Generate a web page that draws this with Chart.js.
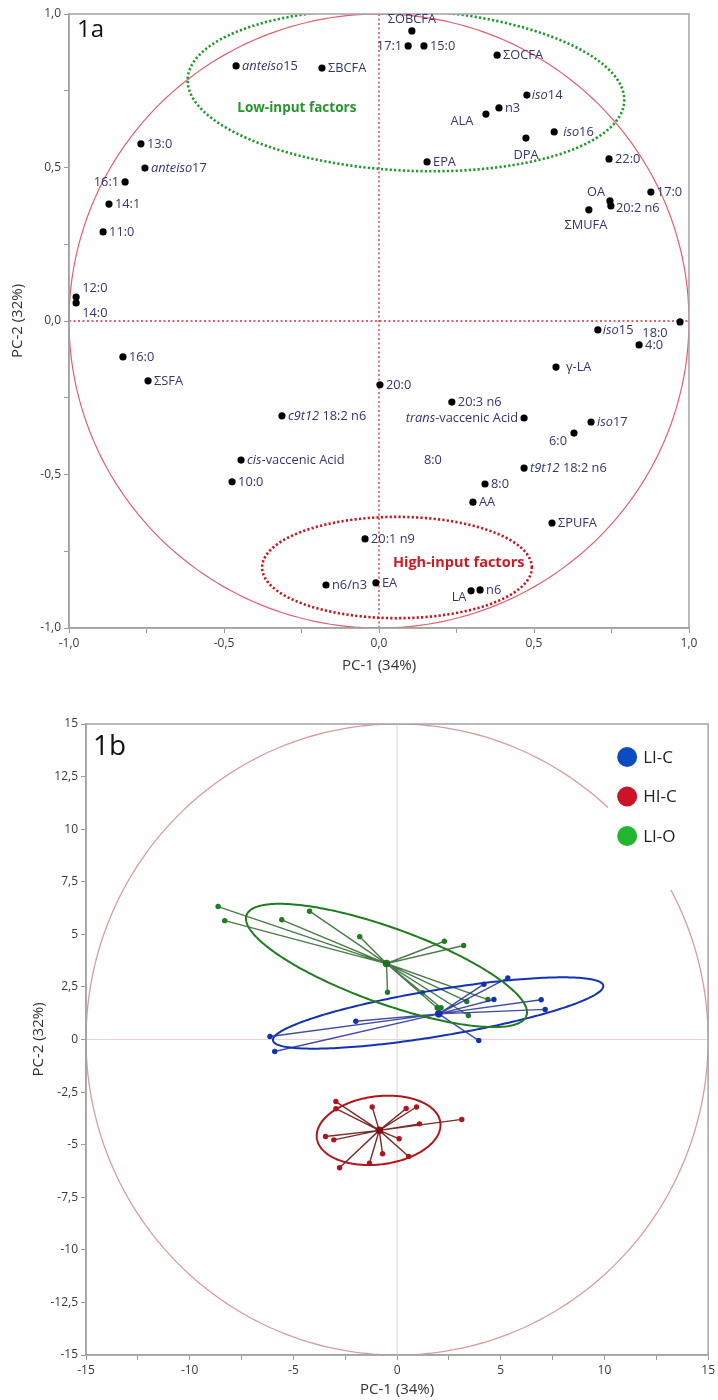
<!DOCTYPE html>
<html><head><meta charset="utf-8">
<script src="https://cdn.jsdelivr.net/npm/chart.js@4.4.1/dist/chart.umd.min.js"></script>
<style>
html,body{margin:0;padding:0;background:#fff;}
#wrap{position:relative;width:718px;height:1400px;overflow:hidden;}
canvas{position:absolute;left:0;}
#c1{top:0;}
#c2{top:690px;}
</style></head><body>
<div id="wrap"><canvas id="c1" width="718" height="690"></canvas><canvas id="c2" width="718" height="710"></canvas></div>
<script>
// ---------- Panel 1a : loadings ----------
const loadingNames = ['ΣOBCFA','17:1','15:0','ΣOCFA','*anteiso*15','ΣBCFA','*iso*14','n3','ALA','DPA','*iso*16','EPA','22:0','17:0','OA','20:2 n6','ΣMUFA','13:0','*anteiso*17','16:1','14:1','11:0','12:0','14:0','18:0','*iso*15','4:0','γ-LA','16:0','ΣSFA','20:0','20:3 n6','*trans*-vaccenic Acid','*iso*17','6:0','*c9t12* 18:2 n6','*cis*-vaccenic Acid','10:0','*t9t12* 18:2 n6','8:0','AA','ΣPUFA','20:1 n9','n6/n3','EA','LA','n6'];
const pc1Loadings = [0.106,0.094,0.145,0.381,-0.461,-0.184,0.477,0.387,0.345,0.474,0.565,0.155,0.742,0.877,0.745,0.748,0.677,-0.768,-0.755,-0.819,-0.871,-0.890,-0.977,-0.977,0.971,0.706,0.839,0.571,-0.826,-0.745,0.003,0.235,0.468,0.684,0.629,-0.313,-0.445,-0.474,0.468,0.342,0.303,0.558,-0.045,-0.171,-0.010,0.297,0.326];
const pc2Loadings = [0.945,0.896,0.896,0.866,0.831,0.824,0.736,0.694,0.674,0.596,0.616,0.518,0.528,0.420,0.391,0.375,0.362,0.577,0.498,0.453,0.381,0.290,0.078,0.059,-0.003,-0.029,-0.078,-0.150,-0.117,-0.195,-0.208,-0.264,-0.316,-0.329,-0.365,-0.309,-0.453,-0.524,-0.479,-0.531,-0.590,-0.658,-0.710,-0.860,-0.853,-0.879,-0.876];
// stray text label without a point
const strayLabelText = ['8:0'];
const strayLabelPc1 = [0.174];
const strayLabelPc2 = [-0.453];
// group factor regions (centre x, centre y, radius x, radius y, angle deg)
const lowInputRegion = [0.087, 0.752, 0.705, 0.262, -3];
const highInputRegion = [0.058, -0.803, 0.435, 0.165, 0];
const regionTitles = ['Low-input factors','High-input factors'];
const regionTitlePc1 = [-0.265, 0.257];
const regionTitlePc2 = [0.694, -0.788];
const tickA = [-1,-0.5,0,0.5,1];

// ---------- Panel 1b : scores ----------
const groupNames = ['LI-C','HI-C','LI-O'];
const licCentroid = [2.01, 1.22];
const licPc1 = [-1.99,-6.13,-5.90,4.19,5.34,4.67,6.95,7.14,3.94];
const licPc2 = [0.87,0.14,-0.57,2.63,2.93,1.90,1.89,1.43,-0.05];
const hicCentroid = [-0.86,-4.32];
const hicPc1 = [-3.45,-3.05,-2.77,-1.33,-0.70,0.10,0.56,1.08,3.12,-2.95,-2.95,-1.20,0.44,0.94];
const hicPc2 = [-4.61,-4.77,-6.10,-5.88,-5.43,-4.72,-5.56,-4.01,-3.80,-2.95,-3.29,-3.21,-3.28,-3.21];
const lioCentroid = [-0.51, 3.61];
const lioPc1 = [-8.63,-8.31,-5.56,-4.22,-1.80,-0.46,2.28,3.21,1.23,3.36,4.38,3.44,1.93,2.12];
const lioPc2 = [6.32,5.65,5.69,6.10,4.89,2.25,4.67,4.47,2.22,1.81,1.90,1.14,1.51,1.51];
// confidence ellipses (centre x, centre y, semi-axis a, semi-axis b, angle deg)
const licEllipse = [1.98, 1.26, 8.07, 1.10, 9.3];
const hicEllipse = [-0.89, -4.32, 3.0, 1.62, 7];
const lioEllipse = [-0.51, 3.52, 7.16, 1.80, -19.5];

// ---------- styling ----------
const F = "'Open Sans','Noto Sans',sans-serif";
const labelColor = '#33366c';
const labelPlace = { // [dx, dy, align] in px relative to dot
  'ΣOBCFA':[0,-12,'center'], '17:1':[-6,0,'right'], 'ALA':[-24,7,'center'], 'DPA':[0,17,'center'],
  'OA':[-14,-9,'center'], 'ΣMUFA':[-3,15,'center'], '16:1':[-6,0,'right'], '12:0':[6,-9,'left'],
  '14:0':[6,10,'left'], '18:0':[-25,11,'center'], '*trans*-vaccenic Acid':[-6,0,'right'],
  '6:0':[-16,8,'center'], 'LA':[-12,6,'center'], '*iso*16':[9,0,'left'], 'γ-LA':[10,0,'left'],
  '*iso*14':[5,0,'left'], '20:2 n6':[5,2,'left'], '*iso*15':[5,0,'left']
};
const groupColors = {'LI-C':'#1232b4','HI-C':'#b0141c','LI-O':'#1f7d1f'};
const groupLineColors = {'LI-C':'rgba(30,45,150,0.85)','HI-C':'rgba(110,20,20,0.9)','LI-O':'rgba(40,100,40,0.85)'};
const legendColors = {'LI-C':'#0b4cc0','HI-C':'#cc1428','LI-O':'#22b530'};

function segs(s){const out=[];s.split('*').forEach((p,i)=>{if(p)out.push({t:p,it:i%2===1});});return out;}
function drawRich(ctx,str,x,y,align,size,color,bold){
  const sg=segs(str);
  const fnt=it=>`${it?'italic ':''}${bold?'bold ':''}${size}px ${F}`;
  let w=0;sg.forEach(s=>{ctx.font=fnt(s.it);s.w=ctx.measureText(s.t).width;w+=s.w;});
  let sx=align==='left'?x:align==='right'?x-w:x-w/2;
  ctx.fillStyle=color;ctx.textBaseline='middle';ctx.textAlign='left';
  sg.forEach(s=>{ctx.font=fnt(s.it);ctx.fillText(s.t,sx,y);sx+=s.w;});
}
function ellipsePath(ctx,xs,ys,p){
  const [cx,cy,a,b,deg]=p;const r=deg*Math.PI/180;
  ctx.beginPath();
  for(let i=0;i<=240;i++){
    const t=i/240*2*Math.PI;
    const dx=a*Math.cos(t),dy=b*Math.sin(t);
    const X=cx+dx*Math.cos(r)-dy*Math.sin(r);
    const Y=cy+dx*Math.sin(r)+dy*Math.cos(r);
    const px=xs.getPixelForValue(X),py=ys.getPixelForValue(Y);
    if(i===0)ctx.moveTo(px,py);else ctx.lineTo(px,py);
  }
  ctx.closePath();
}
function frame(chart){
  const {ctx,chartArea:a}=chart;
  ctx.save();ctx.strokeStyle='#a3a3a3';ctx.lineWidth=1.5;
  ctx.strokeRect(a.left,a.top,a.right-a.left,a.bottom-a.top);ctx.restore();
}
const fmtA=v=>{const r=Math.round(v*10)/10;return (r===0?0:r).toFixed(1).replace('.',',');};
const fmtB=v=>String(Math.round(v*10)/10).replace('.',',');

// ---------- Chart 1a ----------
const bgA={id:'bgA',
  beforeDatasetsDraw(chart){
    const {ctx,chartArea:a,scales:{x,y}}=chart;
    ctx.save();
    ctx.beginPath();ctx.rect(a.left,a.top,a.right-a.left,a.bottom-a.top);ctx.clip();
    ctx.strokeStyle='#d2303e';ctx.lineWidth=1.3;ctx.setLineDash([2,2.5]);
    ctx.beginPath();
    ctx.moveTo(x.getPixelForValue(0),a.top);ctx.lineTo(x.getPixelForValue(0),a.bottom);
    ctx.moveTo(a.left,y.getPixelForValue(0));ctx.lineTo(a.right,y.getPixelForValue(0));
    ctx.stroke();
    ctx.setLineDash([]);ctx.strokeStyle='#e2606e';ctx.lineWidth=1.2;
    ellipsePath(ctx,x,y,[0,0,1,1,0]);ctx.stroke();
    ctx.lineWidth=2.6;ctx.setLineDash([2.2,2.2]);
    ctx.strokeStyle='#1f9a2a';ellipsePath(ctx,x,y,lowInputRegion);ctx.stroke();
    ctx.strokeStyle='#c8141e';ellipsePath(ctx,x,y,highInputRegion);ctx.stroke();
    ctx.restore();
    frame(chart);
  },
  afterDatasetsDraw(chart){
    const {ctx,chartArea:a,scales:{x,y}}=chart;
    ctx.save();
    loadingNames.forEach((n,i)=>{
      const p=labelPlace[n]||[6,0,'left'];
      drawRich(ctx,n,x.getPixelForValue(pc1Loadings[i])+p[0],y.getPixelForValue(pc2Loadings[i])+p[1],p[2],12.8,labelColor,false);
    });
    strayLabelText.forEach((t,i)=>drawRich(ctx,t,x.getPixelForValue(strayLabelPc1[i]),y.getPixelForValue(strayLabelPc2[i]),'center',12.8,labelColor,false));
    drawRich(ctx,regionTitles[0],x.getPixelForValue(regionTitlePc1[0]),y.getPixelForValue(regionTitlePc2[0]),'center',13.5,'#27952f',true);
    drawRich(ctx,regionTitles[1],x.getPixelForValue(regionTitlePc1[1]),y.getPixelForValue(regionTitlePc2[1]),'center',14.5,'#cf1a24',true);
    ctx.fillStyle='#111';ctx.font=`24px ${F}`;ctx.textAlign='left';ctx.textBaseline='alphabetic';
    ctx.fillText('1a',a.left+8,a.top+23);
    ctx.restore();
  }
};
new Chart(document.getElementById('c1'),{
  type:'scatter',
  data:{datasets:[{data:pc1Loadings.map((v,i)=>({x:v,y:pc2Loadings[i]})),pointRadius:3.6,pointHoverRadius:3.6,backgroundColor:'#000',borderWidth:0}]},
  options:{responsive:false,animation:false,
    layout:{padding:{top:14,right:29,left:0,bottom:12}},
    plugins:{legend:{display:false},tooltip:{enabled:false}},
    scales:{
      x:{type:'linear',min:-1,max:1,
        ticks:{stepSize:0.25,autoSkip:false,maxRotation:0,padding:3,color:'#3a3a3a',font:{size:12,family:F},
          callback:v=>tickA.some(t=>Math.abs(t-v)<1e-9)?fmtA(v):''},
        grid:{drawOnChartArea:false,drawTicks:true,tickLength:5,color:'#999'},
        border:{color:'#a3a3a3',width:1.5},
        title:{display:true,text:'PC-1 (34%)',color:'#333',font:{size:15,family:F},padding:{top:2,bottom:3}},
        afterFit:s=>{s.height=50;}},
      y:{type:'linear',min:-1,max:1,
        ticks:{stepSize:0.25,autoSkip:false,padding:3,color:'#3a3a3a',font:{size:12,family:F},
          callback:v=>tickA.some(t=>Math.abs(t-v)<1e-9)?fmtA(v):''},
        grid:{drawOnChartArea:false,drawTicks:true,tickLength:5,color:'#999'},
        border:{color:'#a3a3a3',width:1.5},
        title:{display:true,text:'PC-2 (32%)',color:'#333',font:{size:15,family:F},padding:{top:9,bottom:0}},
        afterFit:s=>{s.width=69;}}
    }
  },
  plugins:[bgA]
});

// ---------- Chart 1b ----------
const groups=[
  {name:'LI-C',c:licCentroid,xs:licPc1,ys:licPc2,e:licEllipse},
  {name:'HI-C',c:hicCentroid,xs:hicPc1,ys:hicPc2,e:hicEllipse},
  {name:'LI-O',c:lioCentroid,xs:lioPc1,ys:lioPc2,e:lioEllipse}
];
const datasetsB=[];
groups.forEach(g=>{
  const star=[];
  g.xs.forEach((v,i)=>{star.push({x:g.c[0],y:g.c[1]});star.push({x:v,y:g.ys[i]});});
  datasetsB.push({data:star,showLine:true,borderColor:groupLineColors[g.name],borderWidth:1.4,
    pointRadius:c=>c.dataIndex%2===1?2.7:0,pointHoverRadius:0,backgroundColor:groupColors[g.name],pointBorderWidth:0});
  datasetsB.push({data:[{x:g.c[0],y:g.c[1]}],pointRadius:3.8,backgroundColor:groupColors[g.name],pointBorderWidth:0});
});
const bgB={id:'bgB',
  beforeDatasetsDraw(chart){
    const {ctx,chartArea:a,scales:{x,y}}=chart;
    ctx.save();
    ctx.beginPath();ctx.rect(a.left,a.top,a.right-a.left,a.bottom-a.top);ctx.clip();
    ctx.strokeStyle='#ead2d2';ctx.lineWidth=1.2;
    ctx.beginPath();
    ctx.moveTo(x.getPixelForValue(0),a.top);ctx.lineTo(x.getPixelForValue(0),a.bottom);
    ctx.moveTo(a.left,y.getPixelForValue(0));ctx.lineTo(a.right,y.getPixelForValue(0));
    ctx.stroke();
    ctx.strokeStyle='#d79c9c';ctx.lineWidth=1.3;
    ellipsePath(ctx,x,y,[0,0,15,15,0]);ctx.stroke();
    ctx.restore();
    frame(chart);
  },
  afterDatasetsDraw(chart){
    const {ctx,chartArea:a,scales:{x,y}}=chart;
    ctx.save();
    ctx.lineWidth=2;
    groups.forEach(g=>{ctx.strokeStyle=groupColors[g.name];ellipsePath(ctx,x,y,g.e);ctx.stroke();});
    // legend
    ctx.fillStyle='#fff';ctx.fillRect(a.right-100,a.top+16,92,150);
    groupNames.forEach((n,i)=>{
      const cy=a.top+33+i*39.5, cx=a.right-81;
      ctx.beginPath();ctx.arc(cx,cy,10,0,2*Math.PI);ctx.fillStyle=legendColors[n];ctx.fill();
      ctx.fillStyle='#222';ctx.font=`17px ${F}`;ctx.textAlign='left';ctx.textBaseline='middle';
      ctx.fillText(n,cx+16,cy+1);
    });
    ctx.fillStyle='#111';ctx.font=`28px ${F}`;ctx.textAlign='left';ctx.textBaseline='alphabetic';
    ctx.fillText('1b',a.left+7,a.top+31);
    ctx.restore();
  }
};
new Chart(document.getElementById('c2'),{
  type:'scatter',
  data:{datasets:datasetsB},
  options:{responsive:false,animation:false,
    layout:{padding:{top:34,right:4,left:0,bottom:0}},
    plugins:{legend:{display:false},tooltip:{enabled:false}},
    scales:{
      x:{type:'linear',min:-15,max:15,
        ticks:{stepSize:2.5,autoSkip:false,maxRotation:0,padding:3,color:'#3a3a3a',font:{size:12,family:F},
          callback:v=>Math.abs(v%5)<1e-9?fmtB(v):''},
        grid:{drawOnChartArea:false,drawTicks:true,tickLength:5,color:'#999'},
        border:{color:'#a3a3a3',width:1.5},
        title:{display:true,text:'PC-1 (34%)',color:'#333',font:{size:15,family:F},padding:{top:2,bottom:1}},
        afterFit:s=>{s.height=45;}},
      y:{type:'linear',min:-15,max:15,
        ticks:{stepSize:2.5,autoSkip:false,padding:3,color:'#3a3a3a',font:{size:12,family:F},callback:v=>fmtB(v)},
        grid:{drawOnChartArea:false,drawTicks:true,tickLength:5,color:'#999'},
        border:{color:'#a3a3a3',width:1.5},
        title:{display:true,text:'PC-2 (32%)',color:'#333',font:{size:15,family:F},padding:{top:30,bottom:0}},
        afterFit:s=>{s.width=86;}}
    }
  },
  plugins:[bgB]
});
</script>
</body></html>
